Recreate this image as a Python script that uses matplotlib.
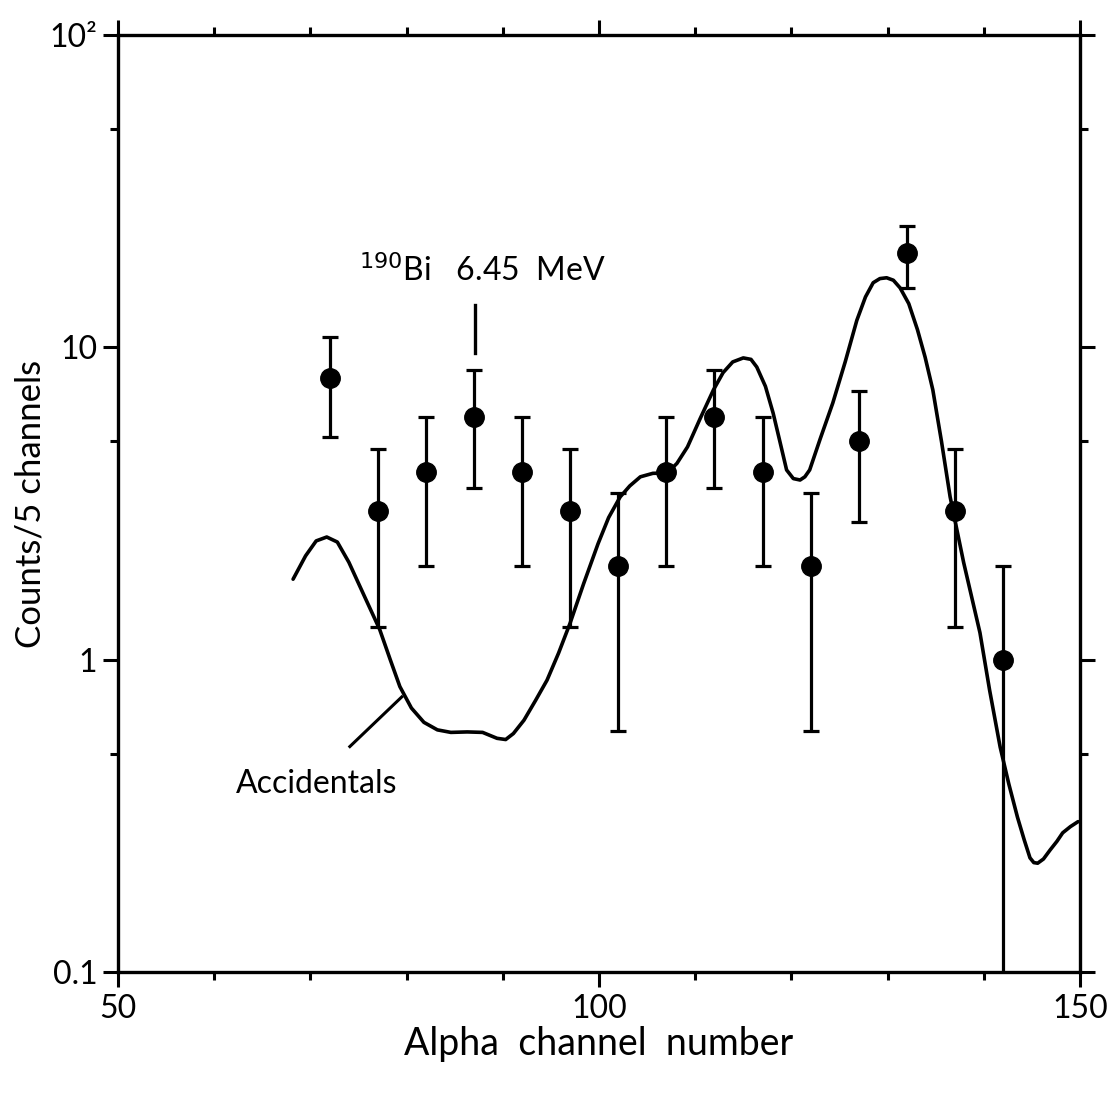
import matplotlib
matplotlib.use("Agg")
import matplotlib.pyplot as plt
from matplotlib.ticker import FixedLocator, NullFormatter

plt.rcParams['font.family'] = ['Lato', 'DejaVu Sans']

# Measured counts per 5-channel bin
channels = [72, 77, 82, 87, 92, 97, 102, 107, 112, 117, 122, 127, 132, 137, 142]
counts = [8, 3, 4, 6, 4, 3, 2, 4, 6, 4, 2, 5, 20, 3, 1]
err_up = [2.83, 1.73, 2.0, 2.45, 2.0, 1.73, 1.41, 2.0, 2.45, 2.0, 1.41, 2.24, 4.47, 1.73, 1.0]
err_down = [2.83, 1.73, 2.0, 2.45, 2.0, 1.73, 1.41, 2.0, 2.45, 2.0, 1.41, 2.24, 4.47, 1.73, 0.9999]

# Accidentals spectrum
acc_x = [68.2, 69.5, 70.6, 71.7, 72.8, 74.0, 75.6, 77.2, 78.3, 79.3, 80.5, 81.8, 83.2,
         84.6, 86.3, 87.9, 89.4, 90.3, 91.1, 92.2, 93.4, 94.6, 95.8, 97.0, 98.4,
         99.9, 101.0, 102.2, 103.2, 104.3, 105.6, 107.1, 108.1, 109.2, 110.5, 111.9,
         112.9, 113.9, 115.0, 115.8, 116.4, 117.3, 118.1, 118.8, 119.5, 120.2, 120.9,
         121.4, 121.9, 123.0, 124.3, 125.6, 126.8, 127.7, 128.5, 129.2, 129.9, 130.6,
         131.3, 132.2, 133.1, 133.9, 134.7, 135.6, 136.5, 137.9, 139.6, 140.6, 141.7,
         142.6, 143.5, 144.2, 144.8, 145.2, 145.6, 146.2, 146.9, 147.6, 148.2, 149.0, 149.8]
acc_y = [1.81, 2.15, 2.40, 2.47, 2.38, 2.05, 1.60, 1.25, 1.00, 0.82, 0.70, 0.63, 0.596,
         0.585, 0.587, 0.585, 0.56, 0.555, 0.58, 0.64, 0.74, 0.86, 1.05, 1.31, 1.75,
         2.35, 2.85, 3.32, 3.60, 3.85, 3.95, 3.96, 4.25, 4.80, 5.90, 7.31,
         8.30, 8.98, 9.25, 9.15, 8.65, 7.50, 6.16, 5.00, 4.05, 3.80, 3.76,
         3.85, 4.05, 5.10, 6.63, 9.00, 12.2, 14.5, 16.1, 16.6, 16.7, 16.4,
         15.5, 13.8, 11.4, 9.3, 7.31, 5.00, 3.32, 2.05, 1.22, 0.80, 0.525,
         0.40, 0.313, 0.265, 0.232, 0.224, 0.223, 0.230, 0.246, 0.262, 0.279, 0.292, 0.303]

fig = plt.figure(figsize=(11.15, 10.99), dpi=100)
ax = fig.add_axes([118 / 1115, 1 - 972 / 1099, (1080 - 118) / 1115, (972 - 35) / 1099])

ax.plot(acc_x, acc_y, color='black', lw=2.6, solid_capstyle='round',
        solid_joinstyle='round', zorder=2)
ax.errorbar(channels, counts, yerr=[err_down, err_up], fmt='o', color='black',
            ms=14, elinewidth=2.3, capsize=6, capthick=2.3, zorder=3)

ax.set_yscale('log')
ax.set_xlim(50, 150)
ax.set_ylim(0.1, 100)

ax.xaxis.set_major_locator(FixedLocator([50, 100, 150]))
ax.xaxis.set_minor_locator(FixedLocator([60, 70, 80, 90, 110, 120, 130, 140]))
ax.set_xticklabels(['50', '100', '150'])
ax.yaxis.set_major_locator(FixedLocator([0.1, 1, 10, 100]))
ax.yaxis.set_minor_locator(FixedLocator([0.5, 5, 50]))
ax.yaxis.set_minor_formatter(NullFormatter())
ax.set_yticklabels(['0.1', '1', '10', '10²'])

for s in ax.spines.values():
    s.set_linewidth(2.4)
ax.tick_params(which='major', direction='out', length=11, width=2.2, labelsize=23,
               top=True, right=True, pad=4)
ax.tick_params(which='minor', direction='out', length=6, width=2.2,
               top=True, right=True)
ax.tick_params(axis='x', which='major', pad=5)

ax.set_xlabel('Alpha  channel  number', fontsize=27, labelpad=1)
ax.set_ylabel('Counts/5 channels', fontsize=25, labelpad=2)

# Annotations
ax.text(62.3, 0.40, 'Accidentals', fontsize=23, va='center', ha='left')
ax.plot([74.1, 79.5], [0.527, 0.76], color='black', lw=2.2)
ax.text(75.0, 17.6, '$^{190}$Bi   6.45  MeV', fontsize=23, va='center', ha='left')
ax.plot([87.1, 87.1], [9.6, 13.7], color='black', lw=2.4)

fig.savefig('out.png', dpi=100)
